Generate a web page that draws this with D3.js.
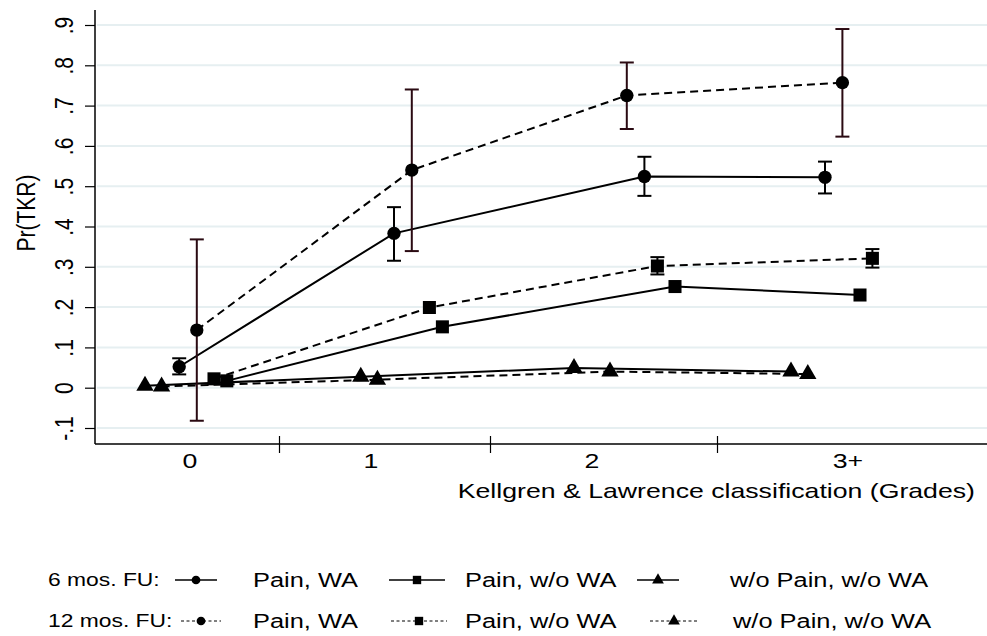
<!DOCTYPE html>
<html>
<head>
<meta charset="utf-8">
<script src="https://cdnjs.cloudflare.com/ajax/libs/d3/7.8.5/d3.min.js"></script>
<style>
  body { margin: 0; background: #fff; }
  text { font-family: Arial, "Liberation Sans", sans-serif; fill: #000; }
</style>
</head>
<body>
<svg width="987" height="636"></svg>
<script>

// x positions in "position" units (0 = under the "0" label)
var gradeLabels = ["0", "1", "2", "3+"],
    gradeLabelPos = [0, 0.905, 2.01, 3.29],
    gradeTicks = [0.445, 1.5, 2.635];

var yTicks = [-0.1, 0, 0.1, 0.2, 0.3, 0.4, 0.5, 0.6, 0.7, 0.8, 0.9];

// 6 months follow-up
var circ6X = [-0.054, 1.02, 2.272, 3.175],
    circ6Y = [0.052, 0.383, 0.524, 0.522],
    circ6Lo = [0.033, 0.315, 0.476, 0.482],
    circ6Hi = [0.073, 0.448, 0.573, 0.561];
var sq6X = [0.184, 1.262, 2.425, 3.35],
    sq6Y = [0.017, 0.151, 0.251, 0.230];
var tri6X = [-0.225, 0.854, 1.92, 3.005],
    tri6Y = [0.005, 0.027, 0.049, 0.040];

// 12 months follow-up
var circ12X = [0.034, 1.109, 2.184, 3.262],
    circ12Y = [0.143, 0.540, 0.725, 0.757],
    circ12Lo = [-0.082, 0.339, 0.642, 0.623],
    circ12Hi = [0.368, 0.740, 0.807, 0.890];
var sq12X = [0.12, 1.197, 2.337, 3.412],
    sq12Y = [0.022, 0.199, 0.302, 0.321],
    sq12Lo = [null, null, 0.281, 0.298],
    sq12Hi = [null, null, 0.324, 0.344];
var tri12X = [-0.142, 0.937, 2.10, 3.089],
    tri12Y = [0.003, 0.020, 0.040, 0.034];

var legendNames = ["Pain, WA", "Pain, w/o WA", "w/o Pain, w/o WA"];
var legendRows = ["6 mos. FU:", "12 mos. FU:"];

var svg = d3.select("svg"),
    width = +svg.attr("width"),
    height = +svg.attr("height");

var STRETCH = 1.27; // the picture's text is drawn wide

var x = d3.scaleLinear().domain([-0.475, 3.985]).range([95, 987]);
var y = d3.scaleLinear().domain([0, 0.9]).range([387.7, 25]);

function fmt(d) {
  if (Math.abs(d) < 1e-9) return "0";
  return d.toFixed(1).replace("0.", ".");
}

function stext(g, px, py, str, anchor, size) {
  return g.append("text")
      .attr("transform", "translate(" + px + "," + py + ") scale(" + STRETCH + ",1)")
      .attr("text-anchor", anchor)
      .attr("font-size", size)
      .text(str);
}

// gridlines
svg.append("g")
    .selectAll("line")
    .data(yTicks)
    .enter().append("line")
    .attr("x1", 97).attr("x2", width)
    .attr("y1", function(d) { return y(d); })
    .attr("y2", function(d) { return y(d); })
    .attr("stroke", "#e6eff1")
    .attr("stroke-width", 2);

// y axis
var yAxis = svg.append("g")
    .attr("transform", "translate(95,0)")
    .call(d3.axisLeft(y).tickValues(yTicks).tickSize(10).tickFormat(fmt));
yAxis.select(".domain").remove();
yAxis.selectAll(".tick line").attr("stroke", "#000").attr("stroke-width", 1.2);
yAxis.selectAll(".tick text")
    .attr("x", null).attr("dy", null)
    .attr("font-size", 21)
    .attr("fill", "#000")
    .attr("text-anchor", "middle")
    .attr("transform", "translate(-22,0) scale(" + STRETCH + ",1) rotate(-90)");

svg.append("line")
    .attr("x1", 95).attr("x2", 95).attr("y1", 10).attr("y2", 444)
    .attr("stroke", "#000").attr("stroke-width", 1.5);

// x axis
svg.append("line")
    .attr("x1", 95).attr("x2", width).attr("y1", 444).attr("y2", 444)
    .attr("stroke", "#000").attr("stroke-width", 1.5);

var xAxis = svg.append("g")
    .attr("transform", "translate(0,453)")
    .call(d3.axisBottom(x).tickValues(gradeTicks).tickSizeInner(-17).tickSizeOuter(0).tickFormat(""));
xAxis.select(".domain").remove();
xAxis.selectAll(".tick line").attr("stroke", "#000").attr("stroke-width", 1.2);

var xLab = svg.append("g");
gradeLabels.forEach(function(d, i) {
  stext(xLab, x(gradeLabelPos[i]), 468, d, "middle", 21);
});

stext(svg, 975, 498, "Kellgren & Lawrence classification (Grades)", "end", 21);

svg.append("text")
    .attr("transform", "translate(35,213) scale(" + STRETCH + ",1) rotate(-90)")
    .attr("text-anchor", "middle")
    .attr("font-size", 21)
    .text("Pr(TKR)");

function zip(xs, ys) {
  return xs.map(function(d, i) { return [d, ys[i]]; });
}

var line = d3.line()
    .x(function(d) { return x(d[0]); })
    .y(function(d) { return y(d[1]); });

var series = [
  { xs: tri6X, ys: tri6Y, dash: null, shape: "tri" },
  { xs: tri12X, ys: tri12Y, dash: "8,5", shape: "tri" },
  { xs: sq6X, ys: sq6Y, dash: null, shape: "sq" },
  { xs: sq12X, ys: sq12Y, dash: "8,5", shape: "sq", lo: sq12Lo, hi: sq12Hi, ci: "#000" },
  { xs: circ6X, ys: circ6Y, dash: null, shape: "circ", lo: circ6Lo, hi: circ6Hi, ci: "#000" },
  { xs: circ12X, ys: circ12Y, dash: "8,5", shape: "circ", lo: circ12Lo, hi: circ12Hi, ci: "#2a0a12" }
];

var symbols = {
  circ: d3.symbol().type(d3.symbolCircle).size(140),
  sq: d3.symbol().type(d3.symbolSquare).size(170),
  tri: d3.symbol().type(d3.symbolTriangle).size(130)
};

series.forEach(function(s) {
  svg.append("path")
      .datum(zip(s.xs, s.ys))
      .attr("d", line)
      .attr("fill", "none")
      .attr("stroke", "#000")
      .attr("stroke-width", 2)
      .attr("stroke-dasharray", s.dash);
});

series.forEach(function(s) {
  if (!s.lo) return;
  var g = svg.append("g").attr("stroke", s.ci).attr("stroke-width", 2);
  s.xs.forEach(function(xv, i) {
    if (s.lo[i] == null) return;
    var cx = x(xv);
    g.append("line").attr("x1", cx).attr("x2", cx)
        .attr("y1", y(s.lo[i])).attr("y2", y(s.hi[i]));
    [s.lo[i], s.hi[i]].forEach(function(v) {
      g.append("line").attr("x1", cx - 7).attr("x2", cx + 7)
          .attr("y1", y(v)).attr("y2", y(v));
    });
  });
});

series.forEach(function(s) {
  svg.append("g").selectAll("path")
      .data(zip(s.xs, s.ys))
      .enter().append("path")
      .attr("d", symbols[s.shape])
      .attr("transform", function(d) { return "translate(" + x(d[0]) + "," + y(d[1]) + ")"; })
      .attr("fill", "#000");
});

// legend
var legSym = {
  circ: d3.symbol().type(d3.symbolCircle).size(60),
  sq: d3.symbol().type(d3.symbolSquare).size(70),
  tri: d3.symbol().type(d3.symbolTriangle).size(60)
};
var legShapes = ["circ", "sq", "tri"],
    legSampleX = [[196, 417, 658], [201, 419, 674]],
    legLineHalf = [[21, 28, 21], [20, 28, 24]],
    legTextX = [[253, 465, 730], [253, 465, 733]],
    legRowY = [580, 621];

legendRows.forEach(function(r, ri) {
  var ly = legRowY[ri];
  stext(svg, 48, ly + 6, r, "start", 18);
  legShapes.forEach(function(sh, k) {
    var cx = legSampleX[ri][k], hw = legLineHalf[ri][k];
    svg.append("line")
        .attr("x1", cx - hw).attr("x2", cx + hw)
        .attr("y1", ly).attr("y2", ly)
        .attr("stroke", "#000")
        .attr("stroke-width", ri ? 1 : 1.5)
        .attr("stroke-dasharray", ri ? "3,2.5" : null);
    svg.append("path")
        .attr("d", legSym[sh])
        .attr("transform", "translate(" + cx + "," + ly + ")")
        .attr("fill", "#000");
    stext(svg, legTextX[ri][k], ly + 7, legendNames[k], "start", 20);
  });
});

</script>
</body>
</html>
